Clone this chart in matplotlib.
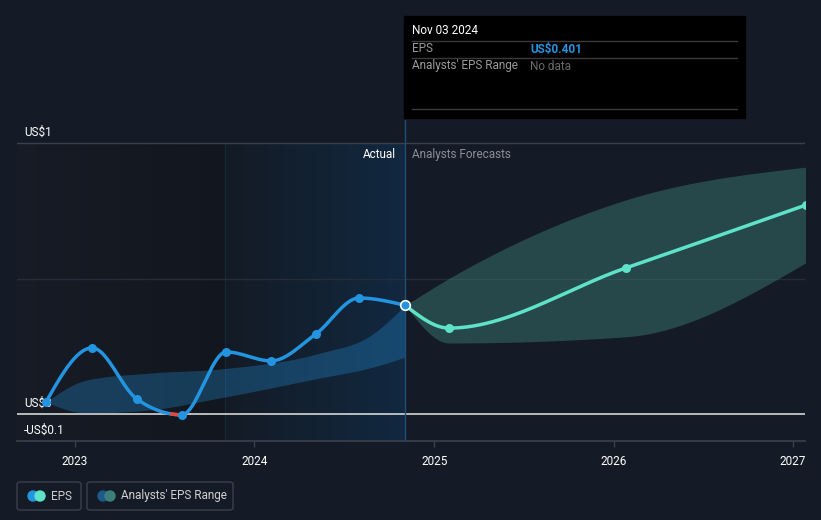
import numpy as np
import matplotlib
matplotlib.use("Agg")
import matplotlib.pyplot as plt
import matplotlib.dates as mdates
from matplotlib.patches import FancyBboxPatch, Rectangle
from matplotlib.lines import Line2D
from datetime import datetime

plt.rcParams['font.family'] = ['Roboto', 'DejaVu Sans']

# ---------------- data ----------------
actual_dates = ["2022-11-03", "2023-02-05", "2023-05-07", "2023-08-06", "2023-11-05",
                "2024-02-04", "2024-05-05", "2024-08-01", "2024-11-03"]
actual_eps = [0.044, 0.244, 0.055, -0.003, 0.229, 0.196, 0.295, 0.428, 0.401]

forecast_dates = ["2024-11-03", "2025-01-31", "2026-01-26", "2027-01-27"]
forecast_eps = [0.401, 0.317, 0.539, 0.771]

range_dates = ["2024-11-03", "2025-01-31", "2026-01-26", "2027-01-27"]
range_high = [0.401, 0.50, 0.79, 0.911]
range_low = [0.401, 0.262, 0.285, 0.558]

hist_band_dates = ["2022-11-03", "2023-01-24", "2023-06-02", "2023-10-22",
                   "2024-05-14", "2024-08-23", "2024-11-03"]
hist_band_high = [0.044, 0.125, 0.151, 0.166, 0.225, 0.288, 0.402]
hist_band_low = [0.044, 0.004, 0.015, 0.059, 0.133, 0.170, 0.210]

year_ticks = ["2023", "2024", "2025", "2026", "2027"]
y_labels = {1.0: "US$1", 0.0: "US$0", -0.1: "-US$0.1"}

# ---------------- helpers ----------------
def dn(lst):
    return np.array([mdates.date2num(datetime.strptime(d, "%Y-%m-%d")) for d in lst])

def monotone(x, y, n=300):
    x = np.asarray(x, float); y = np.asarray(y, float)
    h = np.diff(x); s = np.diff(y) / h
    m = np.zeros(len(x))
    for k in range(1, len(x) - 1):
        if s[k - 1] * s[k] <= 0:
            m[k] = 0.0
        else:
            p = (s[k - 1] * h[k] + s[k] * h[k - 1]) / (h[k - 1] + h[k])
            m[k] = (np.sign(s[k - 1]) + np.sign(s[k])) * min(abs(s[k - 1]), abs(s[k]), 0.5 * abs(p))
    if len(x) > 2:
        m[0] = (3 * s[0] - m[1]) / 2
        m[-1] = (3 * s[-1] - m[-2]) / 2
    else:
        m[0] = m[-1] = s[0]
    xs = np.linspace(x[0], x[-1], n)
    ys = np.empty_like(xs)
    idx = np.clip(np.searchsorted(x, xs) - 1, 0, len(x) - 2)
    for i, (xv, k) in enumerate(zip(xs, idx)):
        t = (xv - x[k]) / h[k]
        h00 = 2 * t**3 - 3 * t**2 + 1
        h10 = t**3 - 2 * t**2 + t
        h01 = -2 * t**3 + 3 * t**2
        h11 = t**3 - t**2
        ys[i] = h00 * y[k] + h10 * h[k] * m[k] + h01 * y[k + 1] + h11 * h[k] * m[k + 1]
    return xs, ys

W, H = 821, 520
BG = "#151b26"

fig = plt.figure(figsize=(W / 100, H / 100), dpi=100, facecolor=BG)

def px2v(y):
    return (414 - y) / 271.0

def px2yr(x):
    return 2023 + (x - 75) / 179.5

def yr2num(yr):
    y = int(np.floor(yr))
    start = mdates.date2num(datetime(y, 1, 1))
    end = mdates.date2num(datetime(y + 1, 1, 1))
    return start + (yr - y) * (end - start)

ax_l, ax_r, ax_t, ax_b = 17, 805, 120, 441
ax = fig.add_axes([ax_l / W, 1 - ax_b / H, (ax_r - ax_l) / W, (ax_b - ax_t) / H])
ax.set_facecolor(BG)
xmin, xmax = yr2num(px2yr(ax_l)), yr2num(px2yr(ax_r))
ax.set_xlim(xmin, xmax)
ymin = px2v(ax_b)
ax.set_ylim(ymin, px2v(ax_t))

now = dn(["2024-11-03"])[0]
hl_start = dn(["2023-11-03"])[0]

def grad_strips(x0, x1, col_a, col_b, n=60):
    ca = np.array(matplotlib.colors.to_rgb(col_a)); cb = np.array(matplotlib.colors.to_rgb(col_b))
    edges = np.linspace(x0, x1, n + 1)
    for i in range(n):
        t = (i + 0.5) / n
        c = ca * (1 - t) + cb * t
        right = edges[min(i + 2, n)]
        ax.fill_between([edges[i], right], ymin, 1.0, color=c, lw=0, zorder=0, antialiased=False)

grad_strips(xmin, hl_start, "#161b25", "#12161e")
grad_strips(hl_start, now, "#131a24", "#112840")
ax.axvline(hl_start, ymax=(1.0 - ymin) / (px2v(ax_t) - ymin), color="#152838", lw=0.8, zorder=0.5)

# grid lines
ax.axhline(1.0, color="#3a414c", lw=1, zorder=1)
ax.axhline(0.5, color="#262d39", lw=1, zorder=1)

# historical band
bx, bh = monotone(dn(hist_band_dates), hist_band_high)
_, bl = monotone(dn(hist_band_dates), hist_band_low)
ax.fill_between(bx, bl, bh, color="#2394df", alpha=0.3, lw=0, zorder=2)

# forecast band
fx, fh = monotone(dn(range_dates), range_high)
_, fl = monotone(dn(range_dates), range_low)
ax.fill_between(fx, fl, fh, color="#3b7f78", alpha=0.45, lw=0, zorder=2)

# zero line
ax.axhline(0.0, color="#d6d6d6", lw=1.2, zorder=3)

# vertical now line
ax.axvline(now, color="#1f4e77", lw=1, zorder=3)

# actual line
ax_x, ax_y = monotone(dn(actual_dates), actual_eps, n=800)
ax.plot(ax_x, ax_y, color="#2394df", lw=2.5, zorder=4, solid_capstyle='round')
neg = np.where(ax_y < 0, ax_y, np.nan)
ax.plot(ax_x, neg, color="#e5453a", lw=2.5, zorder=4)
ax.scatter(dn(actual_dates)[:-1], actual_eps[:-1], s=42, color="#2394df", zorder=5, lw=0)

# forecast line
fcx, fcy = monotone(dn(forecast_dates), forecast_eps, n=400)
ax.plot(fcx, fcy, color="#5ee2c8", lw=2.5, zorder=4)
ax.scatter(dn(forecast_dates)[1:], forecast_eps[1:], s=42, color="#5ee2c8", zorder=5, lw=0)
ax.scatter([now], [actual_eps[-1]], s=48, color="#2394df", edgecolor="white", lw=1.2, zorder=6)

# axes styling
for sp in ["top", "right", "left"]:
    ax.spines[sp].set_visible(False)
ax.spines["bottom"].set_color("#3b414c")
ax.spines["bottom"].set_linewidth(1.2)
ax.set_yticks([])
ax.set_xticks([mdates.date2num(datetime(int(y), 1, 1)) for y in year_ticks])
ax.set_xticklabels(year_ticks)
ax.tick_params(axis='x', colors="#3b414c", length=4, width=1, labelcolor="#ffffff",
               labelsize=8.5, pad=6)

for v, lab in y_labels.items():
    ax.annotate(lab, xy=(7 / (ax_r - ax_l), v), xycoords=('axes fraction', 'data'),
                xytext=(0, 4), textcoords='offset pixels', color="#ffffff", fontsize=8.5,
                ha='left', va='bottom', zorder=3)

# Actual / Analysts Forecasts labels
fig.text(396 / W, 1 - 154 / H, "Actual", color="#ffffff", fontsize=8.5, ha='right', va='center')
fig.text(412 / W, 1 - 154 / H, "Analysts Forecasts", color="#8a8f96", fontsize=8.5, ha='left', va='center')

# tooltip
fig.patches.append(Rectangle((404 / W, 1 - 118 / H), (745 - 404) / W, (118 - 16) / H,
                             transform=fig.transFigure, color="#000000", zorder=10))
for yy in [41, 58, 109]:
    fig.lines.append(Line2D([412 / W, 737 / W], [1 - yy / H] * 2, transform=fig.transFigure,
                            color="#3a3a3a", lw=1, zorder=11))
fig.text(412 / W, 1 - 31 / H, "Nov 03 2024", color="#ffffff", fontsize=8.5, ha='left', va='center', zorder=12)
fig.text(412 / W, 1 - 49 / H, "EPS", color="#9a9a9a", fontsize=8.5, ha='left', va='center', zorder=12)
fig.text(530 / W, 1 - 49 / H, "US$0.401", color="#2394df", fontsize=8.5, ha='left', va='center',
         fontweight='bold', zorder=12)
fig.text(412 / W, 1 - 66 / H, "Analysts' EPS Range", color="#9a9a9a", fontsize=8.5, ha='left', va='center', zorder=12)
fig.text(530 / W, 1 - 66 / H, "No data", color="#6a6a6a", fontsize=8.5, ha='left', va='center', zorder=12)

# legend
def legend_box(x0, x1, label, col1, col2):
    fig.patches.append(FancyBboxPatch((x0 / W, 1 - 510 / H), (x1 - x0) / W, 28 / H,
                                      boxstyle="round,pad=0,rounding_size=0.004",
                                      transform=fig.transFigure, fc="none", ec="#3b414c", lw=1))
    cy = 1 - 496 / H
    fig.patches.append(matplotlib.patches.Ellipse(((x0 + 16) / W, cy), 10 / W, 10 / H,
                                                  transform=fig.transFigure, color=col1))
    fig.patches.append(matplotlib.patches.Ellipse(((x0 + 23) / W, cy), 10 / W, 10 / H,
                                                  transform=fig.transFigure, color=col2))
    fig.text((x0 + 34) / W, cy, label, color="#d0d0d0", fontsize=8.5, ha='left', va='center')

legend_box(17, 81, "EPS", "#2394df", "#5ee2c8")
legend_box(87, 233, "Analysts' EPS Range", "#1d5a8a", "#3d7f78")

fig.savefig("out.png", dpi=100, facecolor=BG)
